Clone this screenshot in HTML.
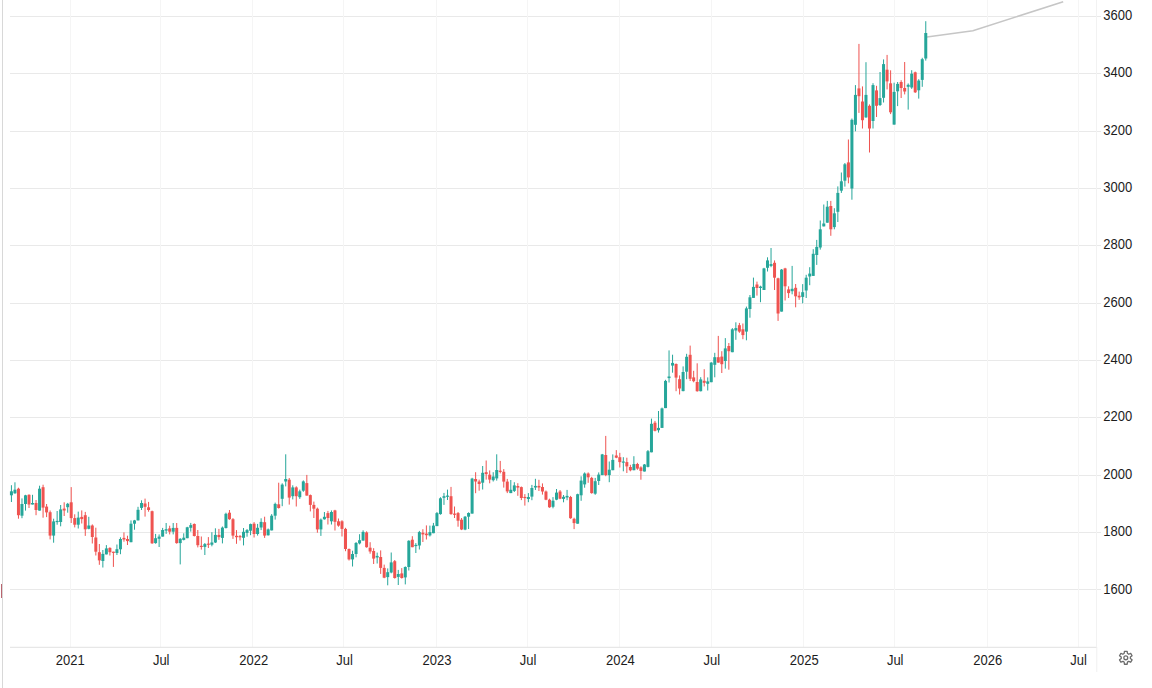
<!DOCTYPE html>
<html><head><meta charset="utf-8"><style>
html,body{margin:0;padding:0;background:#fff;}
body{width:1152px;height:688px;overflow:hidden;position:relative;}
svg{position:absolute;left:0;top:0;display:block;}
text{font-family:"Liberation Sans",sans-serif;font-size:13px;fill:#1c1c1c;}
</style></head><body>
<svg width="1152" height="688" viewBox="0 0 1152 688">
<rect x="0" y="0" width="1152" height="688" fill="#ffffff"/>
<rect x="2" y="0" width="1" height="688" fill="#d8d8d8"/>
<rect x="1" y="584" width="1" height="14" fill="#b9646e"/>
<rect x="10" y="16" width="1091" height="1" fill="#e9e9e9"/><rect x="10" y="73" width="1091" height="1" fill="#e9e9e9"/><rect x="10" y="131" width="1091" height="1" fill="#e9e9e9"/><rect x="10" y="188" width="1091" height="1" fill="#e9e9e9"/><rect x="10" y="245" width="1091" height="1" fill="#e9e9e9"/><rect x="10" y="303" width="1091" height="1" fill="#e9e9e9"/><rect x="10" y="360" width="1091" height="1" fill="#e9e9e9"/><rect x="10" y="417" width="1091" height="1" fill="#e9e9e9"/><rect x="10" y="475" width="1091" height="1" fill="#e9e9e9"/><rect x="10" y="532" width="1091" height="1" fill="#e9e9e9"/><rect x="10" y="589" width="1091" height="1" fill="#e9e9e9"/><rect x="70" y="0" width="1" height="647" fill="#f5f5f5"/><rect x="160" y="0" width="1" height="647" fill="#f5f5f5"/><rect x="252" y="0" width="1" height="647" fill="#f5f5f5"/><rect x="343" y="0" width="1" height="647" fill="#f5f5f5"/><rect x="436" y="0" width="1" height="647" fill="#f5f5f5"/><rect x="527" y="0" width="1" height="647" fill="#f5f5f5"/><rect x="619" y="0" width="1" height="647" fill="#f5f5f5"/><rect x="711" y="0" width="1" height="647" fill="#f5f5f5"/><rect x="803" y="0" width="1" height="647" fill="#f5f5f5"/><rect x="894" y="0" width="1" height="647" fill="#f5f5f5"/><rect x="987" y="0" width="1" height="647" fill="#f5f5f5"/><rect x="1078" y="0" width="1" height="647" fill="#f5f5f5"/>
<rect x="10" y="646.8" width="1087" height="1" fill="#e2e2e2"/>
<rect x="1096" y="0" width="1" height="647" fill="#f2f2f2"/>
<rect x="1096.3" y="647" width="1" height="25" fill="#f0f0f0"/>
<polyline points="926.9,37 972.9,30.7 1063.2,1.7" fill="none" stroke="#c6c6c6" stroke-width="1.6"/>
<rect x="10.92" y="485.2" width="1" height="16.8" fill="#26a69a"/>
<rect x="9.92" y="491.3" width="3.0" height="4.0" fill="#26a69a"/>
<rect x="14.44" y="482.3" width="1" height="11.5" fill="#26a69a"/>
<rect x="13.44" y="489.7" width="3.0" height="3.6" fill="#26a69a"/>
<rect x="17.95" y="487.7" width="1" height="31.0" fill="#ef5350"/>
<rect x="16.95" y="488.7" width="3.0" height="26.5" fill="#ef5350"/>
<rect x="21.47" y="498.4" width="1" height="19.8" fill="#26a69a"/>
<rect x="20.47" y="504.0" width="3.0" height="11.7" fill="#26a69a"/>
<rect x="24.99" y="494.8" width="1" height="15.8" fill="#26a69a"/>
<rect x="23.99" y="495.3" width="3.0" height="8.7" fill="#26a69a"/>
<rect x="28.50" y="494.3" width="1" height="13.7" fill="#ef5350"/>
<rect x="27.50" y="494.8" width="3.0" height="9.7" fill="#ef5350"/>
<rect x="32.02" y="494.8" width="1" height="9.7" fill="#26a69a"/>
<rect x="31.02" y="503.0" width="3.0" height="1.5" fill="#26a69a"/>
<rect x="35.54" y="500.0" width="1" height="15.2" fill="#ef5350"/>
<rect x="34.54" y="503.0" width="3.0" height="7.0" fill="#ef5350"/>
<rect x="39.05" y="485.7" width="1" height="24.9" fill="#26a69a"/>
<rect x="38.05" y="488.7" width="3.0" height="21.9" fill="#26a69a"/>
<rect x="42.57" y="484.7" width="1" height="33.0" fill="#ef5350"/>
<rect x="41.57" y="487.2" width="3.0" height="20.4" fill="#ef5350"/>
<rect x="46.09" y="504.0" width="1" height="13.1" fill="#ef5350"/>
<rect x="45.09" y="506.6" width="3.0" height="5.8" fill="#ef5350"/>
<rect x="49.60" y="510.5" width="1" height="28.9" fill="#ef5350"/>
<rect x="48.60" y="512.2" width="3.0" height="23.4" fill="#ef5350"/>
<rect x="53.12" y="518.7" width="1" height="24.0" fill="#26a69a"/>
<rect x="52.12" y="521.4" width="3.0" height="14.2" fill="#26a69a"/>
<rect x="56.64" y="511.0" width="1" height="13.7" fill="#26a69a"/>
<rect x="55.64" y="520.9" width="3.0" height="1.2" fill="#26a69a"/>
<rect x="60.15" y="505.0" width="1" height="21.3" fill="#26a69a"/>
<rect x="59.15" y="509.4" width="3.0" height="12.6" fill="#26a69a"/>
<rect x="63.67" y="502.3" width="1" height="13.7" fill="#ef5350"/>
<rect x="62.67" y="508.6" width="3.0" height="1.9" fill="#ef5350"/>
<rect x="67.19" y="502.9" width="1" height="9.8" fill="#26a69a"/>
<rect x="66.19" y="503.8" width="3.0" height="3.4" fill="#26a69a"/>
<rect x="70.70" y="487.1" width="1" height="35.9" fill="#ef5350"/>
<rect x="69.70" y="502.3" width="3.0" height="15.8" fill="#ef5350"/>
<rect x="74.22" y="514.3" width="1" height="13.1" fill="#ef5350"/>
<rect x="73.22" y="518.1" width="3.0" height="6.6" fill="#ef5350"/>
<rect x="77.74" y="511.6" width="1" height="16.9" fill="#26a69a"/>
<rect x="76.74" y="517.6" width="3.0" height="7.1" fill="#26a69a"/>
<rect x="81.25" y="510.4" width="1" height="13.1" fill="#ef5350"/>
<rect x="80.25" y="516.9" width="3.0" height="2.2" fill="#ef5350"/>
<rect x="84.77" y="511.9" width="1" height="24.0" fill="#ef5350"/>
<rect x="83.77" y="515.2" width="3.0" height="14.1" fill="#ef5350"/>
<rect x="88.29" y="516.8" width="1" height="12.5" fill="#26a69a"/>
<rect x="87.29" y="525.5" width="3.0" height="3.3" fill="#26a69a"/>
<rect x="91.80" y="524.4" width="1" height="19.1" fill="#ef5350"/>
<rect x="90.80" y="525.5" width="3.0" height="11.5" fill="#ef5350"/>
<rect x="95.32" y="527.7" width="1" height="27.8" fill="#ef5350"/>
<rect x="94.32" y="537.5" width="3.0" height="14.2" fill="#ef5350"/>
<rect x="98.84" y="544.0" width="1" height="20.8" fill="#ef5350"/>
<rect x="97.84" y="552.2" width="3.0" height="8.2" fill="#ef5350"/>
<rect x="102.35" y="550.0" width="1" height="17.5" fill="#26a69a"/>
<rect x="101.35" y="553.9" width="3.0" height="7.1" fill="#26a69a"/>
<rect x="105.87" y="545.1" width="1" height="9.3" fill="#26a69a"/>
<rect x="104.87" y="548.4" width="3.0" height="6.0" fill="#26a69a"/>
<rect x="109.39" y="547.3" width="1" height="8.2" fill="#ef5350"/>
<rect x="108.39" y="547.9" width="3.0" height="4.3" fill="#ef5350"/>
<rect x="112.90" y="551.7" width="1" height="15.2" fill="#ef5350"/>
<rect x="111.90" y="551.7" width="3.0" height="1.2" fill="#ef5350"/>
<rect x="116.42" y="544.5" width="1" height="10.5" fill="#26a69a"/>
<rect x="115.42" y="549.2" width="3.0" height="3.8" fill="#26a69a"/>
<rect x="119.94" y="537.3" width="1" height="16.9" fill="#26a69a"/>
<rect x="118.94" y="539.0" width="3.0" height="10.3" fill="#26a69a"/>
<rect x="123.45" y="532.4" width="1" height="9.3" fill="#ef5350"/>
<rect x="122.45" y="537.9" width="3.0" height="1.6" fill="#ef5350"/>
<rect x="126.97" y="535.7" width="1" height="9.3" fill="#ef5350"/>
<rect x="125.97" y="539.0" width="3.0" height="2.1" fill="#ef5350"/>
<rect x="130.49" y="520.4" width="1" height="21.8" fill="#26a69a"/>
<rect x="129.49" y="523.7" width="3.0" height="18.5" fill="#26a69a"/>
<rect x="134.00" y="519.9" width="1" height="9.8" fill="#26a69a"/>
<rect x="133.00" y="520.4" width="3.0" height="3.3" fill="#26a69a"/>
<rect x="137.52" y="506.8" width="1" height="13.6" fill="#26a69a"/>
<rect x="136.52" y="509.8" width="3.0" height="10.6" fill="#26a69a"/>
<rect x="141.04" y="500.3" width="1" height="9.7" fill="#26a69a"/>
<rect x="140.04" y="503.0" width="3.0" height="4.9" fill="#26a69a"/>
<rect x="144.55" y="498.6" width="1" height="18.0" fill="#ef5350"/>
<rect x="143.55" y="503.5" width="3.0" height="3.3" fill="#ef5350"/>
<rect x="148.07" y="501.9" width="1" height="9.8" fill="#ef5350"/>
<rect x="147.07" y="507.3" width="3.0" height="2.7" fill="#ef5350"/>
<rect x="151.59" y="510.6" width="1" height="33.3" fill="#ef5350"/>
<rect x="150.59" y="511.2" width="3.0" height="32.1" fill="#ef5350"/>
<rect x="155.10" y="533.9" width="1" height="9.8" fill="#26a69a"/>
<rect x="154.10" y="538.2" width="3.0" height="4.9" fill="#26a69a"/>
<rect x="158.62" y="534.4" width="1" height="12.6" fill="#26a69a"/>
<rect x="157.62" y="536.6" width="3.0" height="2.2" fill="#26a69a"/>
<rect x="162.14" y="527.9" width="1" height="8.7" fill="#26a69a"/>
<rect x="161.14" y="530.0" width="3.0" height="6.6" fill="#26a69a"/>
<rect x="165.65" y="523.0" width="1" height="10.9" fill="#26a69a"/>
<rect x="164.65" y="529.2" width="3.0" height="1.4" fill="#26a69a"/>
<rect x="169.17" y="525.7" width="1" height="8.7" fill="#ef5350"/>
<rect x="168.17" y="528.4" width="3.0" height="3.3" fill="#ef5350"/>
<rect x="172.69" y="523.0" width="1" height="11.4" fill="#26a69a"/>
<rect x="171.69" y="527.9" width="3.0" height="3.8" fill="#26a69a"/>
<rect x="176.20" y="523.0" width="1" height="20.7" fill="#ef5350"/>
<rect x="175.20" y="527.9" width="3.0" height="15.2" fill="#ef5350"/>
<rect x="179.72" y="538.2" width="1" height="26.2" fill="#26a69a"/>
<rect x="178.72" y="538.8" width="3.0" height="4.3" fill="#26a69a"/>
<rect x="183.24" y="533.3" width="1" height="7.1" fill="#26a69a"/>
<rect x="182.24" y="537.7" width="3.0" height="2.2" fill="#26a69a"/>
<rect x="186.75" y="526.8" width="1" height="11.4" fill="#26a69a"/>
<rect x="185.75" y="527.3" width="3.0" height="10.9" fill="#26a69a"/>
<rect x="190.27" y="522.9" width="1" height="8.7" fill="#26a69a"/>
<rect x="189.27" y="525.1" width="3.0" height="2.7" fill="#26a69a"/>
<rect x="193.79" y="523.4" width="1" height="13.1" fill="#ef5350"/>
<rect x="192.79" y="524.0" width="3.0" height="12.0" fill="#ef5350"/>
<rect x="197.31" y="530.0" width="1" height="17.4" fill="#ef5350"/>
<rect x="196.31" y="536.0" width="3.0" height="9.2" fill="#ef5350"/>
<rect x="200.82" y="536.5" width="1" height="13.1" fill="#ef5350"/>
<rect x="199.82" y="545.8" width="3.0" height="1.2" fill="#ef5350"/>
<rect x="204.34" y="543.0" width="1" height="12.0" fill="#26a69a"/>
<rect x="203.34" y="544.1" width="3.0" height="2.8" fill="#26a69a"/>
<rect x="207.86" y="537.1" width="1" height="10.9" fill="#ef5350"/>
<rect x="206.86" y="543.6" width="3.0" height="1.2" fill="#ef5350"/>
<rect x="211.37" y="532.2" width="1" height="14.1" fill="#26a69a"/>
<rect x="210.37" y="542.5" width="3.0" height="2.2" fill="#26a69a"/>
<rect x="214.89" y="528.3" width="1" height="14.7" fill="#26a69a"/>
<rect x="213.89" y="534.9" width="3.0" height="7.6" fill="#26a69a"/>
<rect x="218.41" y="528.9" width="1" height="10.9" fill="#ef5350"/>
<rect x="217.41" y="534.9" width="3.0" height="2.2" fill="#ef5350"/>
<rect x="221.92" y="526.5" width="1" height="16.9" fill="#26a69a"/>
<rect x="220.92" y="527.6" width="3.0" height="10.3" fill="#26a69a"/>
<rect x="225.44" y="512.7" width="1" height="15.8" fill="#26a69a"/>
<rect x="224.44" y="513.8" width="3.0" height="14.2" fill="#26a69a"/>
<rect x="228.96" y="510.0" width="1" height="9.8" fill="#ef5350"/>
<rect x="227.96" y="512.7" width="3.0" height="6.5" fill="#ef5350"/>
<rect x="232.47" y="518.1" width="1" height="20.8" fill="#ef5350"/>
<rect x="231.47" y="519.2" width="3.0" height="16.4" fill="#ef5350"/>
<rect x="235.99" y="530.1" width="1" height="13.7" fill="#ef5350"/>
<rect x="234.99" y="535.8" width="3.0" height="1.4" fill="#ef5350"/>
<rect x="239.51" y="535.0" width="1" height="5.5" fill="#ef5350"/>
<rect x="238.51" y="536.1" width="3.0" height="1.2" fill="#ef5350"/>
<rect x="243.02" y="528.0" width="1" height="17.4" fill="#26a69a"/>
<rect x="242.02" y="531.8" width="3.0" height="6.0" fill="#26a69a"/>
<rect x="246.54" y="529.0" width="1" height="7.7" fill="#26a69a"/>
<rect x="245.54" y="530.1" width="3.0" height="2.8" fill="#26a69a"/>
<rect x="250.06" y="523.6" width="1" height="11.6" fill="#26a69a"/>
<rect x="249.06" y="524.1" width="3.0" height="6.6" fill="#26a69a"/>
<rect x="253.57" y="522.1" width="1" height="15.4" fill="#ef5350"/>
<rect x="252.57" y="523.7" width="3.0" height="10.3" fill="#ef5350"/>
<rect x="257.09" y="523.9" width="1" height="11.7" fill="#26a69a"/>
<rect x="256.09" y="527.8" width="3.0" height="6.2" fill="#26a69a"/>
<rect x="260.61" y="518.3" width="1" height="11.8" fill="#26a69a"/>
<rect x="259.61" y="521.9" width="3.0" height="5.6" fill="#26a69a"/>
<rect x="264.12" y="516.7" width="1" height="21.2" fill="#ef5350"/>
<rect x="263.12" y="522.2" width="3.0" height="13.4" fill="#ef5350"/>
<rect x="267.64" y="528.5" width="1" height="7.0" fill="#26a69a"/>
<rect x="266.64" y="529.4" width="3.0" height="5.9" fill="#26a69a"/>
<rect x="271.16" y="514.1" width="1" height="16.3" fill="#26a69a"/>
<rect x="270.16" y="515.7" width="3.0" height="14.7" fill="#26a69a"/>
<rect x="274.67" y="502.6" width="1" height="17.0" fill="#26a69a"/>
<rect x="273.67" y="503.9" width="3.0" height="11.8" fill="#26a69a"/>
<rect x="278.19" y="482.7" width="1" height="25.9" fill="#ef5350"/>
<rect x="277.19" y="504.3" width="3.0" height="3.7" fill="#ef5350"/>
<rect x="281.71" y="483.3" width="1" height="22.9" fill="#26a69a"/>
<rect x="280.71" y="484.6" width="3.0" height="14.2" fill="#26a69a"/>
<rect x="285.22" y="454.3" width="1" height="32.1" fill="#26a69a"/>
<rect x="284.22" y="479.0" width="3.0" height="2.5" fill="#26a69a"/>
<rect x="288.74" y="478.0" width="1" height="26.6" fill="#ef5350"/>
<rect x="287.74" y="479.7" width="3.0" height="17.9" fill="#ef5350"/>
<rect x="292.26" y="485.3" width="1" height="14.1" fill="#26a69a"/>
<rect x="291.26" y="487.4" width="3.0" height="8.8" fill="#26a69a"/>
<rect x="295.77" y="486.3" width="1" height="20.2" fill="#ef5350"/>
<rect x="294.77" y="487.4" width="3.0" height="8.8" fill="#ef5350"/>
<rect x="299.29" y="489.6" width="1" height="9.3" fill="#26a69a"/>
<rect x="298.29" y="491.3" width="3.0" height="5.9" fill="#26a69a"/>
<rect x="302.81" y="480.4" width="1" height="11.4" fill="#26a69a"/>
<rect x="301.81" y="481.4" width="3.0" height="9.3" fill="#26a69a"/>
<rect x="306.32" y="474.9" width="1" height="20.7" fill="#ef5350"/>
<rect x="305.32" y="483.1" width="3.0" height="12.5" fill="#ef5350"/>
<rect x="309.84" y="494.5" width="1" height="16.9" fill="#ef5350"/>
<rect x="308.84" y="495.1" width="3.0" height="9.8" fill="#ef5350"/>
<rect x="313.36" y="501.6" width="1" height="16.4" fill="#ef5350"/>
<rect x="312.36" y="504.9" width="3.0" height="3.8" fill="#ef5350"/>
<rect x="316.87" y="507.6" width="1" height="25.1" fill="#ef5350"/>
<rect x="315.87" y="508.7" width="3.0" height="20.7" fill="#ef5350"/>
<rect x="320.39" y="518.5" width="1" height="17.4" fill="#26a69a"/>
<rect x="319.39" y="519.6" width="3.0" height="9.8" fill="#26a69a"/>
<rect x="323.91" y="512.0" width="1" height="7.6" fill="#26a69a"/>
<rect x="322.91" y="516.8" width="3.0" height="2.5" fill="#26a69a"/>
<rect x="327.42" y="510.9" width="1" height="13.6" fill="#ef5350"/>
<rect x="326.42" y="513.1" width="3.0" height="4.9" fill="#ef5350"/>
<rect x="330.94" y="510.4" width="1" height="14.1" fill="#26a69a"/>
<rect x="329.94" y="512.0" width="3.0" height="9.3" fill="#26a69a"/>
<rect x="334.46" y="509.8" width="1" height="20.7" fill="#ef5350"/>
<rect x="333.46" y="510.4" width="3.0" height="11.4" fill="#ef5350"/>
<rect x="337.97" y="518.5" width="1" height="8.2" fill="#ef5350"/>
<rect x="336.97" y="521.3" width="3.0" height="4.3" fill="#ef5350"/>
<rect x="341.49" y="520.2" width="1" height="16.3" fill="#ef5350"/>
<rect x="340.49" y="521.3" width="3.0" height="7.6" fill="#ef5350"/>
<rect x="345.01" y="527.8" width="1" height="23.4" fill="#ef5350"/>
<rect x="344.01" y="528.9" width="3.0" height="20.1" fill="#ef5350"/>
<rect x="348.52" y="548.5" width="1" height="12.0" fill="#ef5350"/>
<rect x="347.52" y="549.0" width="3.0" height="10.4" fill="#ef5350"/>
<rect x="352.04" y="550.7" width="1" height="15.8" fill="#26a69a"/>
<rect x="351.04" y="554.0" width="3.0" height="5.4" fill="#26a69a"/>
<rect x="355.56" y="542.0" width="1" height="15.3" fill="#26a69a"/>
<rect x="354.56" y="543.0" width="3.0" height="11.0" fill="#26a69a"/>
<rect x="359.07" y="534.2" width="1" height="10.2" fill="#26a69a"/>
<rect x="358.07" y="540.2" width="3.0" height="3.2" fill="#26a69a"/>
<rect x="362.59" y="530.3" width="1" height="10.3" fill="#26a69a"/>
<rect x="361.59" y="531.9" width="3.0" height="8.7" fill="#26a69a"/>
<rect x="366.11" y="531.3" width="1" height="16.4" fill="#ef5350"/>
<rect x="365.11" y="532.4" width="3.0" height="14.8" fill="#ef5350"/>
<rect x="369.62" y="542.2" width="1" height="11.5" fill="#ef5350"/>
<rect x="368.62" y="547.7" width="3.0" height="3.8" fill="#ef5350"/>
<rect x="373.14" y="548.2" width="1" height="15.8" fill="#ef5350"/>
<rect x="372.14" y="551.0" width="3.0" height="7.6" fill="#ef5350"/>
<rect x="376.66" y="552.6" width="1" height="10.9" fill="#26a69a"/>
<rect x="375.66" y="555.9" width="3.0" height="1.6" fill="#26a69a"/>
<rect x="380.17" y="550.4" width="1" height="23.5" fill="#ef5350"/>
<rect x="379.17" y="557.0" width="3.0" height="10.9" fill="#ef5350"/>
<rect x="383.69" y="564.6" width="1" height="13.6" fill="#ef5350"/>
<rect x="382.69" y="567.9" width="3.0" height="9.8" fill="#ef5350"/>
<rect x="387.21" y="568.4" width="1" height="16.9" fill="#26a69a"/>
<rect x="386.21" y="572.2" width="3.0" height="4.9" fill="#26a69a"/>
<rect x="390.72" y="552.5" width="1" height="20.8" fill="#26a69a"/>
<rect x="389.72" y="562.4" width="3.0" height="10.1" fill="#26a69a"/>
<rect x="394.24" y="560.0" width="1" height="18.6" fill="#ef5350"/>
<rect x="393.24" y="561.2" width="3.0" height="16.8" fill="#ef5350"/>
<rect x="397.76" y="569.9" width="1" height="15.1" fill="#26a69a"/>
<rect x="396.76" y="574.0" width="3.0" height="2.9" fill="#26a69a"/>
<rect x="401.27" y="568.1" width="1" height="10.5" fill="#ef5350"/>
<rect x="400.27" y="573.4" width="3.0" height="4.6" fill="#ef5350"/>
<rect x="404.79" y="566.4" width="1" height="18.0" fill="#26a69a"/>
<rect x="403.79" y="567.0" width="3.0" height="10.4" fill="#26a69a"/>
<rect x="408.31" y="540.2" width="1" height="30.3" fill="#26a69a"/>
<rect x="407.31" y="540.8" width="3.0" height="26.2" fill="#26a69a"/>
<rect x="411.82" y="536.2" width="1" height="11.0" fill="#ef5350"/>
<rect x="410.82" y="539.7" width="3.0" height="7.5" fill="#ef5350"/>
<rect x="415.34" y="543.1" width="1" height="9.9" fill="#26a69a"/>
<rect x="414.34" y="544.9" width="3.0" height="1.2" fill="#26a69a"/>
<rect x="418.86" y="530.9" width="1" height="18.6" fill="#26a69a"/>
<rect x="417.86" y="532.1" width="3.0" height="13.4" fill="#26a69a"/>
<rect x="422.37" y="529.2" width="1" height="12.8" fill="#ef5350"/>
<rect x="421.37" y="532.7" width="3.0" height="1.7" fill="#ef5350"/>
<rect x="425.89" y="525.4" width="1" height="14.1" fill="#ef5350"/>
<rect x="424.89" y="533.6" width="3.0" height="1.6" fill="#ef5350"/>
<rect x="429.41" y="525.6" width="1" height="10.9" fill="#26a69a"/>
<rect x="428.41" y="532.1" width="3.0" height="3.3" fill="#26a69a"/>
<rect x="432.92" y="522.9" width="1" height="10.3" fill="#26a69a"/>
<rect x="431.92" y="525.6" width="3.0" height="7.6" fill="#26a69a"/>
<rect x="436.44" y="512.0" width="1" height="14.1" fill="#26a69a"/>
<rect x="435.44" y="513.1" width="3.0" height="13.0" fill="#26a69a"/>
<rect x="439.96" y="497.2" width="1" height="17.5" fill="#26a69a"/>
<rect x="438.96" y="498.3" width="3.0" height="15.8" fill="#26a69a"/>
<rect x="443.47" y="492.9" width="1" height="12.0" fill="#26a69a"/>
<rect x="442.47" y="496.2" width="3.0" height="1.6" fill="#26a69a"/>
<rect x="446.99" y="489.6" width="1" height="10.4" fill="#26a69a"/>
<rect x="445.99" y="495.6" width="3.0" height="1.2" fill="#26a69a"/>
<rect x="450.51" y="486.9" width="1" height="27.8" fill="#ef5350"/>
<rect x="449.51" y="496.2" width="3.0" height="17.9" fill="#ef5350"/>
<rect x="454.02" y="506.5" width="1" height="11.5" fill="#ef5350"/>
<rect x="453.02" y="513.6" width="3.0" height="1.2" fill="#ef5350"/>
<rect x="457.54" y="512.0" width="1" height="14.7" fill="#ef5350"/>
<rect x="456.54" y="513.1" width="3.0" height="7.6" fill="#ef5350"/>
<rect x="461.06" y="518.0" width="1" height="12.1" fill="#ef5350"/>
<rect x="460.06" y="519.7" width="3.0" height="9.8" fill="#ef5350"/>
<rect x="464.57" y="516.0" width="1" height="14.2" fill="#26a69a"/>
<rect x="463.57" y="516.7" width="3.0" height="12.9" fill="#26a69a"/>
<rect x="468.09" y="512.3" width="1" height="16.7" fill="#26a69a"/>
<rect x="467.09" y="513.0" width="3.0" height="3.7" fill="#26a69a"/>
<rect x="471.61" y="477.8" width="1" height="35.8" fill="#26a69a"/>
<rect x="470.61" y="478.6" width="3.0" height="35.0" fill="#26a69a"/>
<rect x="475.12" y="472.2" width="1" height="21.0" fill="#ef5350"/>
<rect x="474.12" y="479.0" width="3.0" height="2.5" fill="#ef5350"/>
<rect x="478.64" y="479.6" width="1" height="11.1" fill="#ef5350"/>
<rect x="477.64" y="481.5" width="3.0" height="2.5" fill="#ef5350"/>
<rect x="482.16" y="466.0" width="1" height="23.5" fill="#26a69a"/>
<rect x="481.16" y="472.8" width="3.0" height="9.9" fill="#26a69a"/>
<rect x="485.67" y="460.5" width="1" height="19.1" fill="#ef5350"/>
<rect x="484.67" y="472.2" width="3.0" height="1.9" fill="#ef5350"/>
<rect x="489.19" y="470.4" width="1" height="12.9" fill="#ef5350"/>
<rect x="488.19" y="474.7" width="3.0" height="4.9" fill="#ef5350"/>
<rect x="492.71" y="472.2" width="1" height="9.3" fill="#26a69a"/>
<rect x="491.71" y="476.5" width="3.0" height="3.7" fill="#26a69a"/>
<rect x="496.22" y="454.3" width="1" height="26.3" fill="#26a69a"/>
<rect x="495.22" y="470.0" width="3.0" height="8.4" fill="#26a69a"/>
<rect x="499.74" y="460.9" width="1" height="12.5" fill="#ef5350"/>
<rect x="498.74" y="470.7" width="3.0" height="1.2" fill="#ef5350"/>
<rect x="503.26" y="469.1" width="1" height="18.5" fill="#ef5350"/>
<rect x="502.26" y="471.8" width="3.0" height="9.8" fill="#ef5350"/>
<rect x="506.77" y="478.9" width="1" height="14.2" fill="#ef5350"/>
<rect x="505.77" y="481.6" width="3.0" height="9.8" fill="#ef5350"/>
<rect x="510.29" y="480.0" width="1" height="13.1" fill="#26a69a"/>
<rect x="509.29" y="489.8" width="3.0" height="3.3" fill="#26a69a"/>
<rect x="513.81" y="482.2" width="1" height="9.8" fill="#26a69a"/>
<rect x="512.81" y="485.4" width="3.0" height="5.5" fill="#26a69a"/>
<rect x="517.32" y="483.2" width="1" height="12.6" fill="#ef5350"/>
<rect x="516.32" y="486.0" width="3.0" height="1.6" fill="#ef5350"/>
<rect x="520.84" y="486.5" width="1" height="13.6" fill="#ef5350"/>
<rect x="519.84" y="487.1" width="3.0" height="10.9" fill="#ef5350"/>
<rect x="524.36" y="494.1" width="1" height="11.5" fill="#ef5350"/>
<rect x="523.36" y="496.9" width="3.0" height="1.2" fill="#ef5350"/>
<rect x="527.87" y="493.1" width="1" height="9.1" fill="#26a69a"/>
<rect x="526.87" y="497.0" width="3.0" height="2.0" fill="#26a69a"/>
<rect x="531.39" y="484.9" width="1" height="15.3" fill="#26a69a"/>
<rect x="530.39" y="488.0" width="3.0" height="8.6" fill="#26a69a"/>
<rect x="534.91" y="478.8" width="1" height="11.2" fill="#26a69a"/>
<rect x="533.91" y="485.9" width="3.0" height="1.6" fill="#26a69a"/>
<rect x="538.42" y="479.8" width="1" height="11.2" fill="#ef5350"/>
<rect x="537.42" y="485.9" width="3.0" height="1.6" fill="#ef5350"/>
<rect x="541.94" y="483.4" width="1" height="11.2" fill="#ef5350"/>
<rect x="540.94" y="487.0" width="3.0" height="4.5" fill="#ef5350"/>
<rect x="545.46" y="490.5" width="1" height="9.7" fill="#ef5350"/>
<rect x="544.46" y="491.5" width="3.0" height="8.2" fill="#ef5350"/>
<rect x="548.98" y="498.7" width="1" height="9.1" fill="#ef5350"/>
<rect x="547.98" y="499.7" width="3.0" height="7.6" fill="#ef5350"/>
<rect x="552.49" y="497.1" width="1" height="11.2" fill="#26a69a"/>
<rect x="551.49" y="500.7" width="3.0" height="6.1" fill="#26a69a"/>
<rect x="556.01" y="489.0" width="1" height="11.2" fill="#26a69a"/>
<rect x="555.01" y="492.6" width="3.0" height="7.1" fill="#26a69a"/>
<rect x="559.53" y="490.0" width="1" height="9.2" fill="#ef5350"/>
<rect x="558.53" y="491.5" width="3.0" height="7.2" fill="#ef5350"/>
<rect x="563.04" y="495.0" width="1" height="7.3" fill="#26a69a"/>
<rect x="562.04" y="496.8" width="3.0" height="2.1" fill="#26a69a"/>
<rect x="566.56" y="489.9" width="1" height="10.3" fill="#26a69a"/>
<rect x="565.56" y="495.9" width="3.0" height="1.6" fill="#26a69a"/>
<rect x="570.08" y="495.9" width="1" height="22.9" fill="#ef5350"/>
<rect x="569.08" y="497.0" width="3.0" height="21.2" fill="#ef5350"/>
<rect x="573.59" y="517.7" width="1" height="11.4" fill="#ef5350"/>
<rect x="572.59" y="518.8" width="3.0" height="4.3" fill="#ef5350"/>
<rect x="577.11" y="493.7" width="1" height="30.0" fill="#26a69a"/>
<rect x="576.11" y="494.2" width="3.0" height="29.5" fill="#26a69a"/>
<rect x="580.63" y="476.3" width="1" height="24.5" fill="#26a69a"/>
<rect x="579.63" y="480.6" width="3.0" height="14.7" fill="#26a69a"/>
<rect x="584.14" y="472.4" width="1" height="15.3" fill="#26a69a"/>
<rect x="583.14" y="473.5" width="3.0" height="10.9" fill="#26a69a"/>
<rect x="587.66" y="472.4" width="1" height="10.4" fill="#ef5350"/>
<rect x="586.66" y="473.5" width="3.0" height="3.8" fill="#ef5350"/>
<rect x="591.18" y="476.8" width="1" height="16.9" fill="#ef5350"/>
<rect x="590.18" y="477.9" width="3.0" height="15.2" fill="#ef5350"/>
<rect x="594.69" y="477.9" width="1" height="16.9" fill="#26a69a"/>
<rect x="593.69" y="481.2" width="3.0" height="12.5" fill="#26a69a"/>
<rect x="598.21" y="472.4" width="1" height="12.6" fill="#26a69a"/>
<rect x="597.21" y="474.6" width="3.0" height="6.4" fill="#26a69a"/>
<rect x="601.73" y="453.9" width="1" height="21.2" fill="#26a69a"/>
<rect x="600.73" y="454.4" width="3.0" height="20.7" fill="#26a69a"/>
<rect x="605.24" y="435.9" width="1" height="40.3" fill="#ef5350"/>
<rect x="604.24" y="455.0" width="3.0" height="20.1" fill="#ef5350"/>
<rect x="608.76" y="461.5" width="1" height="20.7" fill="#26a69a"/>
<rect x="607.76" y="469.7" width="3.0" height="5.4" fill="#26a69a"/>
<rect x="612.28" y="454.4" width="1" height="15.8" fill="#26a69a"/>
<rect x="611.28" y="459.9" width="3.0" height="10.3" fill="#26a69a"/>
<rect x="615.79" y="450.1" width="1" height="8.1" fill="#ef5350"/>
<rect x="614.79" y="455.5" width="3.0" height="2.2" fill="#ef5350"/>
<rect x="619.31" y="452.8" width="1" height="14.7" fill="#ef5350"/>
<rect x="618.31" y="457.2" width="3.0" height="4.9" fill="#ef5350"/>
<rect x="622.83" y="457.2" width="1" height="14.1" fill="#26a69a"/>
<rect x="621.83" y="461.5" width="3.0" height="1.2" fill="#26a69a"/>
<rect x="626.34" y="457.7" width="1" height="15.3" fill="#ef5350"/>
<rect x="625.34" y="462.1" width="3.0" height="4.3" fill="#ef5350"/>
<rect x="629.86" y="464.8" width="1" height="6.5" fill="#ef5350"/>
<rect x="628.86" y="467.0" width="3.0" height="3.3" fill="#ef5350"/>
<rect x="633.38" y="456.2" width="1" height="14.1" fill="#26a69a"/>
<rect x="632.38" y="464.1" width="3.0" height="6.1" fill="#26a69a"/>
<rect x="636.89" y="462.8" width="1" height="7.0" fill="#ef5350"/>
<rect x="635.89" y="464.0" width="3.0" height="4.6" fill="#ef5350"/>
<rect x="640.41" y="466.3" width="1" height="13.4" fill="#ef5350"/>
<rect x="639.41" y="467.4" width="3.0" height="3.5" fill="#ef5350"/>
<rect x="643.93" y="464.0" width="1" height="7.5" fill="#26a69a"/>
<rect x="642.93" y="464.5" width="3.0" height="7.0" fill="#26a69a"/>
<rect x="647.44" y="450.0" width="1" height="17.4" fill="#26a69a"/>
<rect x="646.44" y="451.2" width="3.0" height="15.7" fill="#26a69a"/>
<rect x="650.96" y="418.6" width="1" height="33.7" fill="#26a69a"/>
<rect x="649.96" y="423.8" width="3.0" height="28.5" fill="#26a69a"/>
<rect x="654.48" y="420.9" width="1" height="10.5" fill="#ef5350"/>
<rect x="653.48" y="422.7" width="3.0" height="8.1" fill="#ef5350"/>
<rect x="657.99" y="411.0" width="1" height="21.6" fill="#26a69a"/>
<rect x="656.99" y="427.9" width="3.0" height="2.3" fill="#26a69a"/>
<rect x="661.51" y="407.6" width="1" height="20.3" fill="#26a69a"/>
<rect x="660.51" y="408.4" width="3.0" height="19.5" fill="#26a69a"/>
<rect x="665.03" y="379.8" width="1" height="28.3" fill="#26a69a"/>
<rect x="664.03" y="380.9" width="3.0" height="27.2" fill="#26a69a"/>
<rect x="668.54" y="350.4" width="1" height="32.1" fill="#26a69a"/>
<rect x="667.54" y="376.5" width="3.0" height="1.6" fill="#26a69a"/>
<rect x="672.06" y="354.7" width="1" height="18.0" fill="#26a69a"/>
<rect x="671.06" y="362.9" width="3.0" height="2.7" fill="#26a69a"/>
<rect x="675.58" y="363.4" width="1" height="27.8" fill="#ef5350"/>
<rect x="674.58" y="364.0" width="3.0" height="13.6" fill="#ef5350"/>
<rect x="679.09" y="375.4" width="1" height="19.1" fill="#ef5350"/>
<rect x="678.09" y="379.2" width="3.0" height="9.3" fill="#ef5350"/>
<rect x="682.61" y="366.4" width="1" height="24.9" fill="#26a69a"/>
<rect x="681.61" y="372.0" width="3.0" height="19.1" fill="#26a69a"/>
<rect x="686.13" y="353.8" width="1" height="25.4" fill="#26a69a"/>
<rect x="685.13" y="356.8" width="3.0" height="14.9" fill="#26a69a"/>
<rect x="689.64" y="345.6" width="1" height="35.4" fill="#ef5350"/>
<rect x="688.64" y="354.8" width="3.0" height="24.0" fill="#ef5350"/>
<rect x="693.16" y="370.8" width="1" height="11.5" fill="#ef5350"/>
<rect x="692.16" y="377.4" width="3.0" height="3.8" fill="#ef5350"/>
<rect x="696.68" y="363.3" width="1" height="28.4" fill="#ef5350"/>
<rect x="695.68" y="382.0" width="3.0" height="9.2" fill="#ef5350"/>
<rect x="700.19" y="377.2" width="1" height="14.2" fill="#26a69a"/>
<rect x="699.19" y="379.4" width="3.0" height="11.8" fill="#26a69a"/>
<rect x="703.71" y="369.2" width="1" height="17.2" fill="#ef5350"/>
<rect x="702.71" y="380.8" width="3.0" height="2.0" fill="#ef5350"/>
<rect x="707.23" y="377.4" width="1" height="13.1" fill="#26a69a"/>
<rect x="706.23" y="381.4" width="3.0" height="2.4" fill="#26a69a"/>
<rect x="710.74" y="362.1" width="1" height="20.1" fill="#26a69a"/>
<rect x="709.74" y="362.6" width="3.0" height="19.6" fill="#26a69a"/>
<rect x="714.26" y="352.8" width="1" height="24.5" fill="#26a69a"/>
<rect x="713.26" y="357.2" width="3.0" height="7.6" fill="#26a69a"/>
<rect x="717.78" y="335.9" width="1" height="26.7" fill="#ef5350"/>
<rect x="716.78" y="357.2" width="3.0" height="5.4" fill="#ef5350"/>
<rect x="721.29" y="351.2" width="1" height="21.8" fill="#ef5350"/>
<rect x="720.29" y="356.6" width="3.0" height="7.6" fill="#ef5350"/>
<rect x="724.81" y="338.1" width="1" height="30.5" fill="#26a69a"/>
<rect x="723.81" y="348.4" width="3.0" height="12.6" fill="#26a69a"/>
<rect x="728.33" y="343.0" width="1" height="26.7" fill="#ef5350"/>
<rect x="727.33" y="346.0" width="3.0" height="5.2" fill="#ef5350"/>
<rect x="731.84" y="328.1" width="1" height="24.1" fill="#26a69a"/>
<rect x="730.84" y="329.3" width="3.0" height="22.9" fill="#26a69a"/>
<rect x="735.36" y="322.3" width="1" height="17.5" fill="#26a69a"/>
<rect x="734.36" y="328.1" width="3.0" height="2.4" fill="#26a69a"/>
<rect x="738.88" y="322.9" width="1" height="9.9" fill="#ef5350"/>
<rect x="737.88" y="325.2" width="3.0" height="6.4" fill="#ef5350"/>
<rect x="742.39" y="323.5" width="1" height="15.7" fill="#ef5350"/>
<rect x="741.39" y="329.3" width="3.0" height="5.8" fill="#ef5350"/>
<rect x="745.91" y="306.6" width="1" height="33.7" fill="#26a69a"/>
<rect x="744.91" y="308.4" width="3.0" height="23.2" fill="#26a69a"/>
<rect x="749.43" y="295.0" width="1" height="22.7" fill="#26a69a"/>
<rect x="748.43" y="297.3" width="3.0" height="11.7" fill="#26a69a"/>
<rect x="752.94" y="277.6" width="1" height="20.3" fill="#26a69a"/>
<rect x="751.94" y="286.9" width="3.0" height="11.0" fill="#26a69a"/>
<rect x="756.46" y="281.6" width="1" height="14.0" fill="#ef5350"/>
<rect x="755.46" y="284.5" width="3.0" height="3.5" fill="#ef5350"/>
<rect x="759.98" y="285.7" width="1" height="16.5" fill="#26a69a"/>
<rect x="758.98" y="286.6" width="3.0" height="1.4" fill="#26a69a"/>
<rect x="763.49" y="267.8" width="1" height="22.2" fill="#26a69a"/>
<rect x="762.49" y="268.4" width="3.0" height="21.6" fill="#26a69a"/>
<rect x="767.01" y="257.3" width="1" height="14.2" fill="#26a69a"/>
<rect x="766.01" y="260.4" width="3.0" height="7.4" fill="#26a69a"/>
<rect x="770.53" y="248.0" width="1" height="19.2" fill="#26a69a"/>
<rect x="769.53" y="264.1" width="3.0" height="1.8" fill="#26a69a"/>
<rect x="774.04" y="260.4" width="1" height="29.6" fill="#ef5350"/>
<rect x="773.04" y="262.8" width="3.0" height="14.9" fill="#ef5350"/>
<rect x="777.56" y="277.7" width="1" height="43.2" fill="#ef5350"/>
<rect x="776.56" y="278.3" width="3.0" height="35.2" fill="#ef5350"/>
<rect x="781.08" y="269.0" width="1" height="42.6" fill="#26a69a"/>
<rect x="780.08" y="269.6" width="3.0" height="42.0" fill="#26a69a"/>
<rect x="784.59" y="267.8" width="1" height="32.7" fill="#ef5350"/>
<rect x="783.59" y="268.4" width="3.0" height="17.9" fill="#ef5350"/>
<rect x="788.11" y="286.3" width="1" height="11.7" fill="#ef5350"/>
<rect x="787.11" y="289.4" width="3.0" height="3.7" fill="#ef5350"/>
<rect x="791.63" y="265.9" width="1" height="28.4" fill="#26a69a"/>
<rect x="790.63" y="288.8" width="3.0" height="2.4" fill="#26a69a"/>
<rect x="795.14" y="284.0" width="1" height="23.3" fill="#ef5350"/>
<rect x="794.14" y="287.8" width="3.0" height="8.5" fill="#ef5350"/>
<rect x="798.66" y="291.6" width="1" height="8.2" fill="#ef5350"/>
<rect x="797.66" y="295.7" width="3.0" height="1.7" fill="#ef5350"/>
<rect x="802.18" y="284.1" width="1" height="19.2" fill="#26a69a"/>
<rect x="801.18" y="292.2" width="3.0" height="4.7" fill="#26a69a"/>
<rect x="805.69" y="274.8" width="1" height="23.2" fill="#26a69a"/>
<rect x="804.69" y="277.7" width="3.0" height="12.8" fill="#26a69a"/>
<rect x="809.21" y="267.2" width="1" height="18.0" fill="#26a69a"/>
<rect x="808.21" y="273.6" width="3.0" height="2.9" fill="#26a69a"/>
<rect x="812.73" y="249.2" width="1" height="26.7" fill="#26a69a"/>
<rect x="811.73" y="253.8" width="3.0" height="22.1" fill="#26a69a"/>
<rect x="816.24" y="239.9" width="1" height="25.0" fill="#26a69a"/>
<rect x="815.24" y="246.9" width="3.0" height="8.1" fill="#26a69a"/>
<rect x="819.76" y="220.5" width="1" height="29.1" fill="#26a69a"/>
<rect x="818.76" y="229.3" width="3.0" height="18.2" fill="#26a69a"/>
<rect x="823.28" y="204.5" width="1" height="21.9" fill="#26a69a"/>
<rect x="822.28" y="223.5" width="3.0" height="2.9" fill="#26a69a"/>
<rect x="826.79" y="200.9" width="1" height="21.8" fill="#26a69a"/>
<rect x="825.79" y="206.7" width="3.0" height="16.0" fill="#26a69a"/>
<rect x="830.31" y="200.9" width="1" height="34.9" fill="#ef5350"/>
<rect x="829.31" y="206.0" width="3.0" height="23.3" fill="#ef5350"/>
<rect x="833.83" y="208.2" width="1" height="21.1" fill="#26a69a"/>
<rect x="832.83" y="213.3" width="3.0" height="13.8" fill="#26a69a"/>
<rect x="837.34" y="186.4" width="1" height="35.6" fill="#26a69a"/>
<rect x="836.34" y="192.9" width="3.0" height="18.9" fill="#26a69a"/>
<rect x="840.86" y="172.5" width="1" height="20.4" fill="#26a69a"/>
<rect x="839.86" y="181.3" width="3.0" height="9.4" fill="#26a69a"/>
<rect x="844.38" y="163.0" width="1" height="23.6" fill="#26a69a"/>
<rect x="843.38" y="164.3" width="3.0" height="16.4" fill="#26a69a"/>
<rect x="847.89" y="139.5" width="1" height="43.8" fill="#ef5350"/>
<rect x="846.89" y="162.4" width="3.0" height="15.0" fill="#ef5350"/>
<rect x="851.41" y="118.5" width="1" height="81.2" fill="#26a69a"/>
<rect x="850.41" y="119.8" width="3.0" height="68.7" fill="#26a69a"/>
<rect x="854.93" y="85.1" width="1" height="46.2" fill="#26a69a"/>
<rect x="853.93" y="94.9" width="3.0" height="29.9" fill="#26a69a"/>
<rect x="858.44" y="43.9" width="1" height="69.0" fill="#ef5350"/>
<rect x="857.44" y="88.4" width="3.0" height="7.8" fill="#ef5350"/>
<rect x="861.96" y="86.4" width="1" height="42.1" fill="#ef5350"/>
<rect x="860.96" y="101.5" width="3.0" height="18.7" fill="#ef5350"/>
<rect x="865.48" y="62.2" width="1" height="55.6" fill="#26a69a"/>
<rect x="864.48" y="94.9" width="3.0" height="22.5" fill="#26a69a"/>
<rect x="868.99" y="104.4" width="1" height="48.1" fill="#ef5350"/>
<rect x="867.99" y="105.8" width="3.0" height="22.7" fill="#ef5350"/>
<rect x="872.51" y="83.2" width="1" height="45.3" fill="#26a69a"/>
<rect x="871.51" y="85.1" width="3.0" height="35.9" fill="#26a69a"/>
<rect x="876.03" y="85.8" width="1" height="31.2" fill="#ef5350"/>
<rect x="875.03" y="90.4" width="3.0" height="15.4" fill="#ef5350"/>
<rect x="879.54" y="72.0" width="1" height="34.0" fill="#26a69a"/>
<rect x="878.54" y="98.1" width="3.0" height="6.9" fill="#26a69a"/>
<rect x="883.06" y="59.4" width="1" height="43.1" fill="#26a69a"/>
<rect x="882.06" y="64.1" width="3.0" height="33.7" fill="#26a69a"/>
<rect x="886.58" y="54.9" width="1" height="34.5" fill="#ef5350"/>
<rect x="885.58" y="69.7" width="3.0" height="11.7" fill="#ef5350"/>
<rect x="890.10" y="70.3" width="1" height="43.8" fill="#ef5350"/>
<rect x="889.10" y="83.3" width="3.0" height="29.0" fill="#ef5350"/>
<rect x="893.61" y="82.7" width="1" height="41.9" fill="#26a69a"/>
<rect x="892.61" y="91.9" width="3.0" height="32.7" fill="#26a69a"/>
<rect x="897.13" y="82.0" width="1" height="24.1" fill="#26a69a"/>
<rect x="896.13" y="83.9" width="3.0" height="7.4" fill="#26a69a"/>
<rect x="900.65" y="80.2" width="1" height="17.8" fill="#ef5350"/>
<rect x="899.65" y="82.0" width="3.0" height="6.0" fill="#ef5350"/>
<rect x="904.16" y="62.0" width="1" height="32.4" fill="#ef5350"/>
<rect x="903.16" y="88.0" width="3.0" height="3.5" fill="#ef5350"/>
<rect x="907.68" y="83.4" width="1" height="26.2" fill="#26a69a"/>
<rect x="906.68" y="84.8" width="3.0" height="2.0" fill="#26a69a"/>
<rect x="911.20" y="70.2" width="1" height="18.7" fill="#26a69a"/>
<rect x="910.20" y="73.7" width="3.0" height="13.8" fill="#26a69a"/>
<rect x="914.71" y="71.6" width="1" height="21.4" fill="#ef5350"/>
<rect x="913.71" y="72.3" width="3.0" height="20.0" fill="#ef5350"/>
<rect x="918.23" y="79.2" width="1" height="19.4" fill="#26a69a"/>
<rect x="917.23" y="80.6" width="3.0" height="9.7" fill="#26a69a"/>
<rect x="921.75" y="57.8" width="1" height="29.0" fill="#26a69a"/>
<rect x="920.75" y="59.2" width="3.0" height="20.7" fill="#26a69a"/>
<rect x="925.26" y="21.2" width="1" height="39.4" fill="#26a69a"/>
<rect x="924.26" y="33.0" width="3.0" height="25.5" fill="#26a69a"/>
<text transform="translate(70.3,664.8) scale(1,1.07)" text-anchor="middle">2021</text>
<text transform="translate(161.2,664.8) scale(1,1.07)" text-anchor="middle">Jul</text>
<text transform="translate(253.7,664.8) scale(1,1.07)" text-anchor="middle">2022</text>
<text transform="translate(344.6,664.8) scale(1,1.07)" text-anchor="middle">Jul</text>
<text transform="translate(437.0,664.8) scale(1,1.07)" text-anchor="middle">2023</text>
<text transform="translate(528.0,664.8) scale(1,1.07)" text-anchor="middle">Jul</text>
<text transform="translate(620.4,664.8) scale(1,1.07)" text-anchor="middle">2024</text>
<text transform="translate(711.9,664.8) scale(1,1.07)" text-anchor="middle">Jul</text>
<text transform="translate(804.3,664.8) scale(1,1.07)" text-anchor="middle">2025</text>
<text transform="translate(895.2,664.8) scale(1,1.07)" text-anchor="middle">Jul</text>
<text transform="translate(987.7,664.8) scale(1,1.07)" text-anchor="middle">2026</text>
<text transform="translate(1078.6,664.8) scale(1,1.07)" text-anchor="middle">Jul</text>
<text transform="translate(1103.3,19.9) scale(1,1.08)">3600</text>
<text transform="translate(1103.3,77.3) scale(1,1.08)">3400</text>
<text transform="translate(1103.3,134.6) scale(1,1.08)">3200</text>
<text transform="translate(1103.3,192.0) scale(1,1.08)">3000</text>
<text transform="translate(1103.3,249.3) scale(1,1.08)">2800</text>
<text transform="translate(1103.3,306.7) scale(1,1.08)">2600</text>
<text transform="translate(1103.3,364.1) scale(1,1.08)">2400</text>
<text transform="translate(1103.3,421.4) scale(1,1.08)">2200</text>
<text transform="translate(1103.3,478.8) scale(1,1.08)">2000</text>
<text transform="translate(1103.3,536.1) scale(1,1.08)">1800</text>
<text transform="translate(1103.3,593.5) scale(1,1.08)">1600</text>
<g transform="translate(1125.8,657.8)" fill="none" stroke="#6b6b6b" stroke-width="1.3">
<path d="M-1.65 -4.29L-1.37 -6.46L1.37 -6.46L1.65 -4.29A4.6 4.6 0 0 1 2.89 -3.57L4.90 -4.42L6.28 -2.04L4.54 -0.72A4.6 4.6 0 0 1 4.54 0.72L6.28 2.04L4.90 4.42L2.89 3.57A4.6 4.6 0 0 1 1.65 4.29L1.37 6.46L-1.37 6.46L-1.65 4.29A4.6 4.6 0 0 1 -2.89 3.57L-4.90 4.42L-6.28 2.04L-4.54 0.72A4.6 4.6 0 0 1 -4.54 -0.72L-6.28 -2.04L-4.90 -4.42L-2.89 -3.57A4.6 4.6 0 0 1 -1.65 -4.29Z" stroke-linejoin="round"/>
<circle r="1.95"/>
</g>
</svg>
</body></html>
